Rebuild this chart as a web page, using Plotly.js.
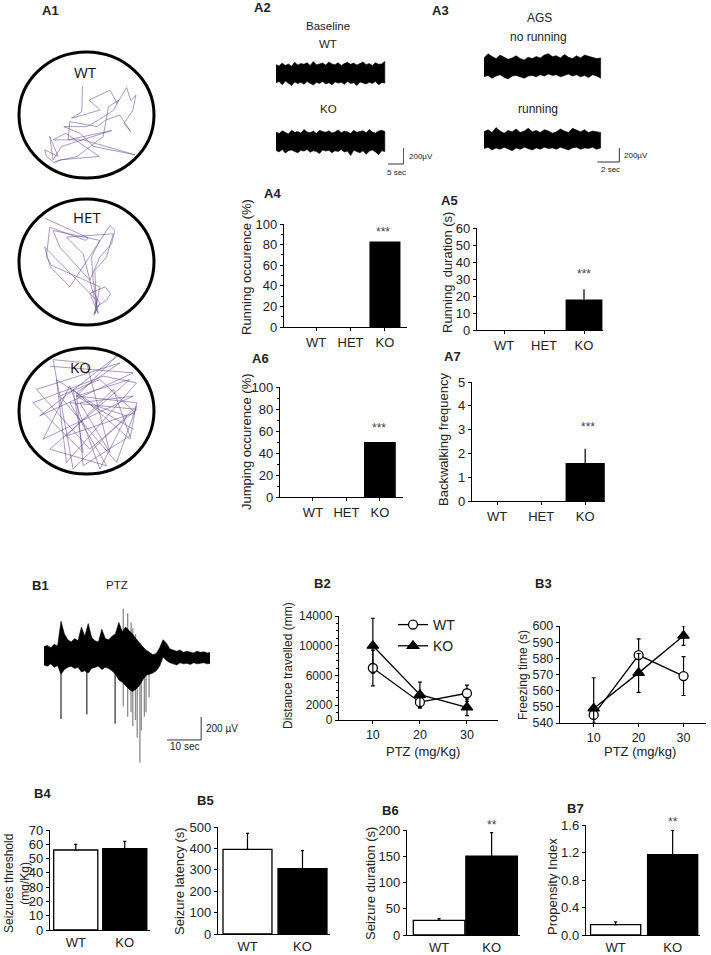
<!DOCTYPE html>
<html>
<head>
<meta charset="utf-8">
<script src="https://cdn.plot.ly/plotly-3.0.1.min.js"></script>
<style>html,body{margin:0;padding:0;background:#fff}</style>
</head>
<body>
<div id="plot" style="width:711px;height:955px"></div>
<script>
var W = 711, H = 955;
var FONT = "Liberation Sans, Arial, sans-serif";

// ---- A1 open field tracks (tracking units, y grows downward)
var wtPathX = [248,246,215,300,268,330,352,380,393,408,398,372,392,360,318,292,210,205,335,185,160,150,175,135,140,165,182,298,198,160,250,405,282,240,192,262,312,342,356,326,310,232,166];
var wtPathY = [258,335,355,330,300,270,310,262,302,285,332,370,395,345,360,380,365,420,392,440,480,410,470,450,470,490,480,470,400,420,420,465,440,400,380,380,350,330,300,320,410,470,485];
var hetPathX = [135,265,258,150,140,155,300,285,290,135,152,210,330,345,335,300,270,180,160,300,275,280,295,270,315,332,320,290,250,200,340,320,285,290,282,300,278];
var hetPathY = [213,272,280,240,330,355,420,500,460,300,360,420,235,250,290,330,400,300,250,280,330,400,500,440,420,440,460,480,320,270,260,330,370,490,505,470,430];
var koPathX = [150,400,120,350,230,410,390,220,250,100,310,410,200,170,290,380,300,210,130,400,240,330,260,160,220,410,350,180,300,405,200,340,390,250,230,360,110,270,410,210,320,150,390,230,400];
var koPathY = [210,230,360,180,300,320,430,280,470,320,240,260,500,250,330,360,520,270,430,300,320,470,200,190,520,330,500,300,250,350,420,280,420,510,290,200,280,460,340,320,510,460,250,300,400];

// ---- A2 / A3 EEG envelopes (µV)
var a2Dur = 34;
var a2WtUp = [110,95,130,100,120,90,140,105,125,115,135,100,150,110,120,130,105,145,120,110,135,100,125,140,115,130,105,120,145,110,125,100,135,115,120,150];
var a2WtLo = [-115,-100,-140,-95,-120,-150,-105,-125,-110,-135,-100,-120,-145,-110,-125,-100,-130,-115,-140,-105,-120,-110,-135,-100,-125,-115,-150,-105,-120,-130,-110,-125,-100,-140,-115,-120];
var a2KoUp = [120,100,135,110,95,140,115,125,105,150,120,110,130,100,140,125,115,135,105,120,145,110,130,120,100,140,115,125,135,110,150,120,105,130,140,125];
var a2KoLo = [-110,-130,-100,-145,-115,-105,-125,-140,-110,-120,-100,-135,-115,-125,-150,-105,-120,-110,-140,-115,-125,-100,-130,-120,-175,-110,-125,-140,-115,-160,-120,-105,-130,-165,-115,-125];
var a3Dur = 10.6;
var a3NoRunUp = [130,190,150,120,170,140,110,130,160,120,100,140,120,150,130,170,190,150,160,130,180,140,120,160,130,170,150,140,120,130];
var a3NoRunLo = [-140,-120,-160,-130,-110,-150,-170,-130,-120,-140,-160,-130,-120,-140,-110,-130,-100,-120,-110,-140,-120,-100,-130,-110,-140,-120,-150,-110,-130,-160];
var a3RunUp = [110,140,100,170,120,90,130,110,150,100,120,160,110,130,100,140,120,90,110,150,120,100,160,130,110,140,100,120,110,100];
var a3RunLo = [-130,-110,-150,-120,-140,-110,-130,-160,-120,-140,-110,-130,-150,-120,-140,-110,-130,-120,-140,-110,-130,-150,-120,-110,-140,-120,-130,-110,-140,-120];

// ---- B1 PTZ trace (1 s bins, µV)
var b1Up = [90,100,80,110,95,310,200,150,130,160,140,260,180,290,170,140,130,240,160,150,180,200,300,220,260,230,200,160,120,90,60,40,20,30,80,150,120,70,60,50,60,40,50,45,35,50,40,45,35,40];
var b1Lo = [-70,-80,-60,-90,-75,-150,-110,-90,-80,-100,-90,-130,-120,-140,-100,-90,-80,-110,-90,-100,-120,-150,-200,-220,-250,-280,-300,-280,-250,-200,-160,-150,-140,-120,-80,0,-30,-50,-60,-70,-50,-60,-55,-65,-50,-60,-55,-50,-60,-55];
var b1SpikeT = [5.0,12.6,20.9];
var b1SpikeMin = [-540,-500,-580];
var b1GraySpikeT = [23.3,24.1,24.6,25.6,26.1,26.9,27.4,28.2,28.6,29.5,30.0,30.9];
var b1GraySpikeMax = [420,250,380,300,250,200,150,120,80,60,40,30];
var b1GraySpikeMin = [-430,-250,-520,-480,-600,-550,-700,-920,-640,-520,-480,-350];

// ---- A4-A7 behaviour
var genotypes3 = ['WT','HET','KO'];
var runningOcc = [0,0,83];
var runningDur = [0,0,18];
var runningDurErr = [0,0,6];
var jumpingOcc = [0,0,50];
var backwalk = [0,0,1.6];
var backwalkErr = [0,0,0.6];

// ---- B2/B3 dose response
var ptzDose = [10,20,30];
var distWT = [7000,2400,3600];
var distWTErr = [2400,800,1100];
var distKO = [10000,3400,1700];
var distKOErr = [3700,1700,1100];
var freezeWT = [545,582,569];
var freezeWTErr = [5,10,12];
var freezeKO = [549,571,594];
var freezeKOErr = [19,12,6];

// ---- B4-B7
var genotypes2 = ['WT','KO'];
var threshold = [56,57];
var thresholdErr = [4,5];
var latency = [395,305];
var latencyErr = [75,85];
var duration = [28,150];
var durationErr = [3,45];
var propensity = [0.15,1.17];
var propensityErr = [0.04,0.35];

function dx(a, b) { return [a / W, b / W]; }
function dy(top, bottom) { return [1 - bottom / H, 1 - top / H]; }

var data = [];
var layout = {
  width: W, height: H,
  margin: {l: 0, r: 0, t: 0, b: 0},
  paper_bgcolor: 'white', plot_bgcolor: 'rgba(0,0,0,0)',
  font: {family: FONT, color: '#222'},
  showlegend: true,
  legend: {x: 393 / W, y: 1 - 609 / H, xanchor: 'left', yanchor: 'top',
    font: {size: 14, family: FONT}, bgcolor: 'rgba(0,0,0,0)', tracegroupgap: 0},
  shapes: [], annotations: []
};

function hidden(n, xd, yd, xr, yr) {
  layout['xaxis' + n] = {domain: xd, range: xr, visible: false, anchor: 'y' + n, fixedrange: true};
  layout['yaxis' + n] = {domain: yd, range: yr, visible: false, anchor: 'x' + n, fixedrange: true};
}

function shown(n, xd, yd, xr, yr, xo, yo) {
  var base = {showline: true, linecolor: 'black', linewidth: 1.2, ticks: 'outside', ticklen: 3,
    tickcolor: 'black', showgrid: false, zeroline: false, fixedrange: true,
    tickfont: {family: FONT, size: 13, color: '#222'}};
  layout['xaxis' + n] = Object.assign({}, base, {domain: xd, range: xr, anchor: 'y' + n}, xo || {});
  layout['yaxis' + n] = Object.assign({}, base, {domain: yd, range: yr, anchor: 'x' + n}, yo || {});
}

function txt(s, x, y, size, opts) {
  layout.annotations.push(Object.assign({text: s, x: x / W, y: 1 - y / H, xref: 'paper', yref: 'paper',
    showarrow: false, xanchor: 'center', yanchor: 'middle',
    font: {family: FONT, size: size, color: '#222'}}, opts || {}));
}

// ---------- A1
var paths = [[wtPathX, wtPathY, 52, 178], [hetPathX, hetPathY, 199, 325], [koPathX, koPathY, 348, 474]];
paths.forEach(function (p, i) {
  var n = i + 1;
  hidden(n, dx(19, 154), dy(p[2], p[3]), [58, 462], [535, 155]);
  data.push({x: p[0], y: p[1], xaxis: 'x' + n, yaxis: 'y' + n, type: 'scatter', mode: 'lines',
    line: {color: 'rgba(105,70,145,0.8)', width: 0.7}, showlegend: false, hoverinfo: 'skip'});
  layout.shapes.push({type: 'circle', xref: 'x' + n + ' domain', yref: 'y' + n + ' domain',
    x0: 0, x1: 1, y0: 0, y1: 1, line: {color: 'black', width: 3}});
});
var circFont = {family: 'Open Sans, sans-serif', size: 15, color: '#111'};
txt('WT', 85, 72, 15, {font: circFont});
txt('HET', 87, 217, 15, {font: circFont});
txt('KO', 80, 367, 15, {font: circFont});

// ---------- EEG bands
function band(up, lo, dur, n, color) {
  var dt = dur / (up.length - 1), xs = [], ys = [];
  for (var i = 0; i < up.length; i++) { xs.push(i * dt); ys.push(up[i]); }
  for (var j = lo.length - 1; j >= 0; j--) { xs.push(j * dt); ys.push(lo[j]); }
  data.push({x: xs, y: ys, xaxis: 'x' + n, yaxis: 'y' + n, type: 'scatter', mode: 'lines',
    fill: 'toself', fillcolor: color, line: {color: color, width: 0.6}, showlegend: false, hoverinfo: 'skip'});
}
function bar2(n, xa, xb, yv, len) {
  layout.shapes.push({type: 'line', xref: 'x' + n, yref: 'y' + n, x0: xa, x1: xb, y0: yv, y1: yv, line: {color: '#333', width: 1}});
  layout.shapes.push({type: 'line', xref: 'x' + n, yref: 'y' + n, x0: xb, x1: xb, y0: yv, y1: yv + len, line: {color: '#333', width: 1}});
}

hidden(4, dx(276, 404), dy(58, 89), [0, 40], [-194, 194]);
band(a2WtUp, a2WtLo, a2Dur, 4, 'black');
hidden(5, dx(276, 404), dy(118, 166), [0, 40], [-306, 294]);
band(a2KoUp, a2KoLo, a2Dur, 5, 'black');
bar2(5, 40 - 5, 39.9, -281, 200);

hidden(6, dx(484, 620), dy(50, 84), [0, 12.36], [-243, 243]);
band(a3NoRunUp, a3NoRunLo, a3Dur, 6, 'black');
hidden(7, dx(484, 620), dy(118, 166), [0, 12.36], [-379, 307]);
band(a3RunUp, a3RunLo, a3Dur, 7, 'black');
bar2(7, 12.3 - 2, 12.3, -322, 200);

txt('<b>A1</b>', 50, 10, 13);
txt('<b>A2</b>', 262, 8, 13);
txt('<b>A3</b>', 440, 11, 13);
txt('Baseline', 328, 26, 11.5);
txt('WT', 328, 44, 11.5);
txt('KO', 328, 109, 11.5);
txt('AGS', 539, 18, 12);
txt('no running', 538, 37, 12);
txt('running', 538, 109, 12);
txt('200µV', 407, 157, 8, {xanchor: 'left'});
txt('5 sec', 396, 172, 8);
txt('200µV', 622, 155, 8, {xanchor: 'left'});
txt('2 sec', 610, 170, 8);

// ---------- A4-A7 bars
function barPanel(n, xd, yd, xr, yr, vals, err, width, yo) {
  shown(n, xd, yd, xr, yr, {type: 'category', tickfont: {family: FONT, size: 13, color: '#222'}}, yo);
  var t = {x: genotypes3, y: vals, type: 'bar', xaxis: 'x' + n, yaxis: 'y' + n, width: width,
    marker: {color: 'black', line: {width: 0}}, showlegend: false, hoverinfo: 'skip'};
  if (err) t.error_y = {type: 'data', array: err, arrayminus: [0, 0, 0], symmetric: false, color: 'black', thickness: 1.2, width: 0};
  data.push(t);
}
barPanel(8, dx(284, 407), dy(224, 327), [-0.93, 2.64], [0, 100], runningOcc, null, 0.9,
  {dtick: 20, minor: {dtick: 10, ticks: 'outside', ticklen: 2, tickcolor: 'black'}});
barPanel(9, dx(477, 603), dy(228, 330), [-0.675, 2.475], [0, 60], runningDur, runningDurErr, 0.92, {dtick: 10});
barPanel(10, dx(280, 403), dy(387, 497), [-0.985, 2.69], [0, 100], jumpingOcc, null, 0.95,
  {dtick: 20, minor: {dtick: 10, ticks: 'outside', ticklen: 2, tickcolor: 'black'}});
barPanel(11, dx(472, 605), dy(382, 501), [-0.57, 2.45], [0, 5], backwalk, backwalkErr, 0.89, {dtick: 1});

txt('<b>A4</b>', 272, 193, 13);
txt('<b>A5</b>', 449, 200, 13);
txt('<b>A6</b>', 260, 358, 13);
txt('<b>A7</b>', 452, 357, 13);
txt('Running occurence (%)', 247, 267, 13, {textangle: -90});
txt('Running  duration (s)', 447, 273, 13, {textangle: -90});
txt('Jumping occurence (%)', 246, 442, 13, {textangle: -90});
txt('Backwalking frequency', 443, 440, 13, {textangle: -90});
var starFont = {family: FONT, size: 12, color: '#444'};
txt('***', 383, 232, 12, {font: starFont});
txt('***', 584, 274, 12, {font: starFont});
txt('***', 379, 428, 12, {font: starFont});
txt('***', 588, 427, 12, {font: starFont});

// ---------- B1
hidden(12, dx(44, 210), dy(605, 765), [0, 48.8], [-940, 452]);
(function () {
  var sx = [], sy = [];
  b1GraySpikeT.forEach(function (t, k) { sx.push(t, t, null); sy.push(b1GraySpikeMax[k], b1GraySpikeMin[k], null); });
  data.push({x: sx, y: sy, xaxis: 'x12', yaxis: 'y12', type: 'scatter', mode: 'lines',
    line: {color: '#8a8a8a', width: 1.3}, showlegend: false, hoverinfo: 'skip'});
})();
band(b1Up, b1Lo, b1Up.length - 1, 12, 'black');
(function () {
  var sx = [], sy = [];
  b1SpikeT.forEach(function (t, k) { sx.push(t, t, null); sy.push(0, b1SpikeMin[k], null); });
  data.push({x: sx, y: sy, xaxis: 'x12', yaxis: 'y12', type: 'scatter', mode: 'lines',
    line: {color: 'black', width: 1}, showlegend: false, hoverinfo: 'skip'});
})();
bar2(12, 46.2 - 10, 46.2, -722, 200);
txt('<b>B1</b>', 40, 585, 13);
txt('PTZ', 117, 585, 11.5);
txt('200 µV', 204, 728, 10, {xanchor: 'left'});
txt('10 sec', 184, 746, 10);

// ---------- B2, B3
function doseTrace(n, y, err, name, sym, fill, legend) {
  data.push({x: ptzDose, y: y, name: name, xaxis: 'x' + n, yaxis: 'y' + n, type: 'scatter', mode: 'lines+markers',
    line: {color: 'black', width: 1.3},
    marker: {symbol: sym, size: sym === 'circle' ? 9 : 10, color: fill, line: {color: 'black', width: 1.3}},
    error_y: {type: 'data', array: err, color: 'black', thickness: 1.2, width: 2},
    showlegend: legend, cliponaxis: false, hoverinfo: 'skip'});
}
shown(13, dx(339, 498), dy(616, 720), [2.8, 36.6], [0, 14000],
  {tickvals: ptzDose, tickfont: {family: FONT, size: 12.5, color: '#222'}},
  {tickvals: [0, 2000, 6000, 10000, 14000], tickformat: 'd', tickfont: {family: FONT, size: 12, color: '#222'},
   minor: {dtick: 1000, ticks: 'outside', ticklen: 2, tickcolor: 'black'}});
doseTrace(13, distWT, distWTErr, 'WT', 'circle', 'white', true);
doseTrace(13, distKO, distKOErr, 'KO', 'triangle-up', 'black', true);

shown(14, dx(560, 706), dy(626, 723), [2.5, 35], [540, 600],
  {tickvals: ptzDose, tickfont: {family: FONT, size: 12.5, color: '#222'}},
  {dtick: 10, tickfont: {family: FONT, size: 12.5, color: '#222'}});
doseTrace(14, freezeWT, freezeWTErr, 'WT', 'circle', 'white', false);
doseTrace(14, freezeKO, freezeKOErr, 'KO', 'triangle-up', 'black', false);

txt('<b>B2</b>', 322, 583, 13);
txt('<b>B3</b>', 543, 583, 13);
txt('Distance travelled (mm)', 288, 666, 12, {textangle: -90});
txt('Freezing time (s)', 523, 675, 12, {textangle: -90});
txt('PTZ (mg/Kg)', 423, 751, 13);
txt('PTZ (mg/kg)', 640, 751, 13);

// ---------- B4-B7
function pairPanel(n, xd, yd, xr, yr, vals, err, width, yo) {
  shown(n, xd, yd, xr, yr, {type: 'category', ticks: '', tickfont: {family: FONT, size: 13, color: '#222'}},
    Object.assign({tickfont: {family: FONT, size: 13, color: '#222'}}, yo));
  data.push({x: genotypes2, y: vals, type: 'bar', xaxis: 'x' + n, yaxis: 'y' + n, width: width,
    marker: {color: ['white', 'black'], line: {color: 'black', width: 1.3}},
    error_y: {type: 'data', array: err, arrayminus: [0, 0], symmetric: false, color: 'black', thickness: 1.2, width: 1.5},
    showlegend: false, hoverinfo: 'skip'});
}
pairPanel(15, dx(50, 150), dy(830, 930), [-0.525, 1.515], [0, 70], threshold, thresholdErr, 0.9, {dtick: 10});
pairPanel(16, dx(218, 330), dy(827, 934), [-0.536, 1.5], [0, 500], latency, latencyErr, 0.89, {dtick: 100});
pairPanel(17, dx(407, 520), dy(830, 935), [-0.61, 1.54], [0, 200], duration, durationErr, 0.98, {dtick: 50});
pairPanel(18, dx(586, 700), dy(825, 935), [-0.52, 1.48], [0, 1.6], propensity, propensityErr, 0.88, {dtick: 0.4, tickformat: '.1f'});

txt('<b>B4</b>', 42, 793, 13);
txt('<b>B5</b>', 205, 800, 13);
txt('<b>B6</b>', 390, 810, 13);
txt('<b>B7</b>', 575, 808, 13);
txt('Seizures threshold<br>(mg/Kg)', 17, 884, 12, {textangle: -90});
txt('Seizure latency (s)', 179, 881, 13, {textangle: -90});
txt('Seizure duration (s)', 370, 884, 13, {textangle: -90});
txt('Propensity Index', 552, 887, 13, {textangle: -90});
txt('**', 492, 825, 12, {font: starFont});
txt('**', 673, 822, 12, {font: starFont});

Plotly.newPlot('plot', data, layout, {displayModeBar: false, staticPlot: true});
</script>
</body>
</html>
